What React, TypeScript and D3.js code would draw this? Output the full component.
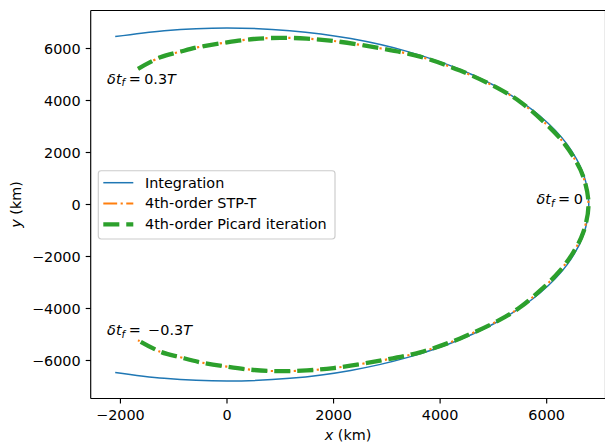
import React from "react";
import * as d3 from "d3";

// ---------- data (km) ----------
const integrationX = [-2098, -1179, 0, 1179, 2322, 3395, 4365, 5201, 5880, 6381, 6687, 6790, 6687, 6381, 5880, 5201, 4365, 3395, 2322, 1179, 0, -1179, -2098];
const integrationY = [6458, 6687, 6790, 6687, 6381, 5880, 5201, 4365, 3395, 2322, 1179, 0, -1179, -2322, -3395, -4365, -5201, -5880, -6381, -6687, -6790, -6687, -6458];

const stptX = [-1670, -1251, -876, -501, 0, 499, 999, 1500, 2000, 2874, 3625, 4375, 5125, 5500, 5875, 6250, 6500, 6687, 6785, 6687, 6500, 6250, 5875, 5500, 5125, 4375, 3625, 2874, 2000, 1500, 999, 499, 0, -501, -876, -1251, -1670];
const stptY = [5220, 5662, 5877, 6069, 6238, 6365, 6410, 6380, 6290, 6008, 5685, 5150, 4431, 3954, 3315, 2546, 1838, 1069, 0, -1069, -1838, -2546, -3315, -3954, -4431, -5150, -5685, -6008, -6290, -6380, -6410, -6365, -6238, -6069, -5877, -5662, -5220];

const picardX = [-1670, -1251, -876, -501, 0, 499, 999, 1500, 2000, 2874, 3625, 4375, 5125, 5500, 5875, 6250, 6500, 6687, 6785, 6687, 6500, 6250, 5875, 5500, 5125, 4375, 3625, 2874, 2000, 1500, 999, 499, 0, -501, -876, -1251, -1670];
const picardY = [5220, 5662, 5877, 6069, 6238, 6365, 6410, 6380, 6290, 6008, 5685, 5150, 4431, 3954, 3315, 2546, 1838, 1069, 0, -1069, -1838, -2546, -3315, -3954, -4431, -5150, -5685, -6008, -6290, -6380, -6410, -6365, -6238, -6069, -5877, -5662, -5220];

const xTicks = [-2000, 0, 2000, 4000, 6000];
const xTickLabels = ["\u22122000", "0", "2000", "4000", "6000"];
const yTicks = [-6000, -4000, -2000, 0, 2000, 4000, 6000];
const yTickLabels = ["\u22126000", "\u22124000", "\u22122000", "0", "2000", "4000", "6000"];

const seriesNames = ["Integration", "4th-order STP-T", "4th-order Picard iteration"];

const annotationX = [-2250, -2250, 5810];
const annotationY = [4640, -5020, 20];
const annotationValues = ["0.3", "\u22120.3", "0"];
const annotationHasT = [true, true, false];

// ---------- layout ----------
const W = 605;
const H = 443;
const L = 90.7;
const R = 605.5;
const T = 10.5;
const B = 398.5;
const FS = 14.4;
const FONT = "DejaVu Sans";

const BLUE = "#1f77b4";
const ORANGE = "#ff7f0e";
const GREEN = "#2ca02c";

const xScale = d3.scaleLinear().domain([-2558, 7104]).range([L, R]);
const yScale = d3.scaleLinear().domain([-7462, 7462]).range([B, T]);

function makePath(xs: number[], ys: number[]) {
  const pts: [number, number][] = xs.map((x, i) => [x, ys[i]]);
  return d3
    .line<[number, number]>()
    .x((d) => xScale(d[0]))
    .y((d) => yScale(d[1]))
    .curve(d3.curveCatmullRom.alpha(0.5))(pts) as string;
}

const lw = 1.444; // px per pt
const orangeDash = [6.4, 1.6, 1, 1.6].map((v) => v * 1.5 * lw).join(",");
const greenDash = [3.7, 1.6].map((v) => v * 3 * lw).join(",");

function DeltaLabel({ x, y, value, hasT }: { x: number; y: number; value: string; hasT: boolean }) {
  const neg = value.startsWith("\u2212");
  return (
    <text x={x} y={y} fontFamily={FONT} fontSize={FS} fill="#000">
      <tspan fontStyle="italic">δt</tspan>
      <tspan fontStyle="italic" fontSize={FS * 0.7} dy={2.6}>f</tspan>
      <tspan dy={-2.6} dx={3.5}>=</tspan>
      {neg ? (
        <>
          <tspan dx={7}>{"\u2212"}</tspan>
          <tspan dx={0.5}>{value.slice(1)}</tspan>
        </>
      ) : (
        <tspan dx={3.5}>{value}</tspan>
      )}
      {hasT ? <tspan fontStyle="italic">T</tspan> : null}
    </text>
  );
}

export default function App() {
  const intPath = makePath(integrationX, integrationY);
  const stpPath = makePath(stptX, stptY);
  const picPath = makePath(picardX, picardY);

  const legX = 98.3;
  const legY = 170.7;
  const legW = 236.7;
  const legH = 68.3;
  const rowY = [182.7, 203.5, 224.3];
  const handleX0 = 103.3;
  const handleX1 = 133.3;
  const textX = 145;

  return (
    <svg
      width={W}
      height={H}
      viewBox={`0 0 ${W} ${H}`}
      style={{ position: "absolute", left: 0, top: 0, background: "#fff" }}
    >
      <defs>
        <clipPath id="axclip">
          <rect x={L} y={T} width={R - L} height={B - T} />
        </clipPath>
      </defs>
      <rect x={0} y={0} width={W} height={H} fill="#fff" />

      <g clipPath="url(#axclip)">
        <path d={intPath} fill="none" stroke={BLUE} strokeWidth={1.5} />
        <path d={stpPath} fill="none" stroke={ORANGE} strokeWidth={1.5 * lw} strokeDasharray={orangeDash} />
        <path d={picPath} fill="none" stroke={GREEN} strokeWidth={3 * lw} strokeDasharray={greenDash} />
      </g>

      {annotationX.map((ax, i) => (
        <DeltaLabel key={i} x={xScale(ax)} y={yScale(annotationY[i])} value={annotationValues[i]} hasT={annotationHasT[i]} />
      ))}

      {/* spines */}
      <g stroke="#000" strokeWidth={1.15} fill="none">
        <line x1={L} y1={T} x2={L} y2={B} />
        <line x1={L} y1={B} x2={R} y2={B} />
        <line x1={L} y1={T} x2={R} y2={T} />
        <line x1={R} y1={T} x2={R} y2={B} />
      </g>

      {/* x ticks */}
      {xTicks.map((t, i) => (
        <g key={"x" + i}>
          <line x1={xScale(t)} x2={xScale(t)} y1={B} y2={B + 5} stroke="#000" strokeWidth={1.15} />
          <text x={xScale(t)} y={B + 21.5} textAnchor="middle" fontFamily={FONT} fontSize={FS}>
            {xTickLabels[i]}
          </text>
        </g>
      ))}

      {/* y ticks */}
      {yTicks.map((t, i) => (
        <g key={"y" + i}>
          <line x1={L - 5} x2={L} y1={yScale(t)} y2={yScale(t)} stroke="#000" strokeWidth={1.15} />
          <text x={L - 10} y={yScale(t) + 5.2} textAnchor="end" fontFamily={FONT} fontSize={FS}>
            {yTickLabels[i]}
          </text>
        </g>
      ))}

      {/* axis labels */}
      <text x={(L + R) / 2} y={440} textAnchor="middle" fontFamily={FONT} fontSize={FS}>
        <tspan fontStyle="italic">x</tspan> (km)
      </text>
      <text
        transform={`translate(21.4, ${(T + B) / 2}) rotate(-90)`}
        textAnchor="middle"
        fontFamily={FONT}
        fontSize={FS}
      >
        <tspan fontStyle="italic">y</tspan> (km)
      </text>

      {/* legend */}
      <rect
        x={legX}
        y={legY}
        width={legW}
        height={legH}
        rx={2.9}
        ry={2.9}
        fill="#fff"
        fillOpacity={0.8}
        stroke="#cccccc"
        strokeWidth={1.15}
      />
      <line x1={handleX0} x2={handleX1} y1={rowY[0]} y2={rowY[0]} stroke={BLUE} strokeWidth={1.5} />
      <line x1={handleX0} x2={handleX1} y1={rowY[1]} y2={rowY[1]} stroke={ORANGE} strokeWidth={1.5 * lw} strokeDasharray={orangeDash} />
      <line x1={handleX0} x2={handleX1} y1={rowY[2]} y2={rowY[2]} stroke={GREEN} strokeWidth={3 * lw} strokeDasharray={greenDash} />
      {seriesNames.map((n, i) => (
        <text key={n} x={textX} y={rowY[i] + 4.8} fontFamily={FONT} fontSize={FS}>
          {n}
        </text>
      ))}
    </svg>
  );
}
